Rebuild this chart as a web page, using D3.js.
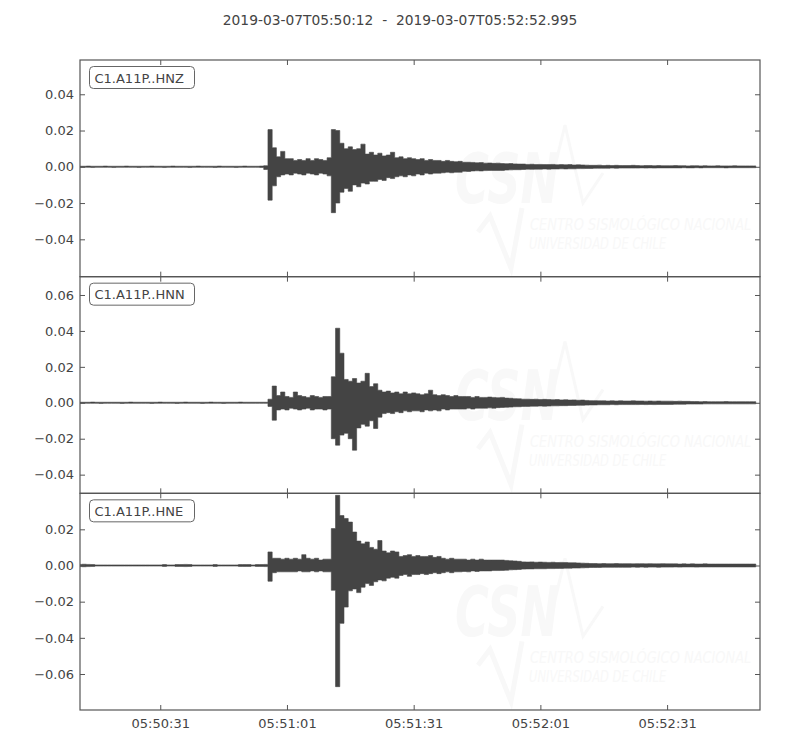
<!DOCTYPE html>
<html>
<head>
<meta charset="utf-8">
<script src="https://cdn.jsdelivr.net/npm/d3@7"></script>
<style>
  body { margin: 0; background: #fff; }
  svg { font-family: "DejaVu Sans", sans-serif; }
</style>
</head>
<body>
<svg width="800" height="750"></svg>
<script>

// ---- data ----
const channels = ["C1.A11P..HNZ", "C1.A11P..HNN", "C1.A11P..HNE"];
const titleText = "2019-03-07T05:50:12  -  2019-03-07T05:52:52.995";
const startTime = "2019-03-07T05:50:12Z";
const endTime = "2019-03-07T05:52:52.995Z";
const xTickLabels = ["05:50:31", "05:51:01", "05:51:31", "05:52:01", "05:52:31"];
const yLimits = [[-0.0606, 0.0589], [-0.0504, 0.0702], [-0.0799, 0.0399]];
const yTicks = [
  [-0.04, -0.02, 0.00, 0.02, 0.04],
  [-0.04, -0.02, 0.00, 0.02, 0.04, 0.06],
  [-0.06, -0.04, -0.02, 0.00, 0.02]
];

// envelope (max / min) of each trace per 1 s window from the start, in units of 1e-3
const hnzHigh = [
  0.3,0.3,0.4,0.3,0.3,0.3,0.4,0.3,0.3,0.3,
  0.3,0.4,0.3,0.3,0.3,0.3,0.3,0.4,0.3,0.3,
  0.3,0.3,0.4,0.3,0.3,0.3,0.3,0.3,0.4,0.3,
  0.3,0.3,0.3,0.4,0.3,0.3,0.3,0.3,0.3,0.4,
  0.3,0.3,0.3,0.4,0.6,20.5,10.5,5.5,8.5,4.5,
  4.5,3.5,4,3.5,4.5,3.5,4.5,4,3.5,5,
  20.5,20,13,10,11,9.5,10,12.5,7,8,
  6.5,7.5,6,6.5,8,5,5.5,4.5,5,4.5,
  4,4.5,3.5,4,3.5,3.5,3,3.5,3,2.8,
  3,2.5,2.5,2.4,2.2,2.3,2,2.1,1.9,2,
  1.8,1.7,1.8,1.6,1.5,1.5,1.3,1.4,1.2,1.3,
  1.2,1.2,1.3,1.1,1.2,1.1,1.2,1,1.1,1,
  0.9,0.8,0.8,0.9,0.7,0.8,0.7,0.8,0.7,0.7,
  0.7,0.8,0.7,0.6,0.7,0.7,0.6,0.7,0.6,0.6,
  0.6,0.7,0.6,0.6,0.5,0.6,0.6,0.5,0.6,0.5,
  0.5,0.6,0.5,0.5,0.5,0.6,0.5,0.5,0.5,0.5,0.5
];
const hnzLow = [
  -0.3,-0.3,-0.3,-0.4,-0.3,-0.3,-0.3,-0.3,-0.4,-0.3,
  -0.3,-0.3,-0.3,-0.3,-0.4,-0.3,-0.3,-0.3,-0.3,-0.3,
  -0.4,-0.3,-0.3,-0.3,-0.3,-0.3,-0.4,-0.3,-0.3,-0.3,
  -0.3,-0.3,-0.4,-0.3,-0.3,-0.3,-0.3,-0.4,-0.3,-0.3,
  -0.3,-0.3,-0.3,-0.4,-1.5,-18.4,-10.5,-5.5,-4.5,-4,
  -4.5,-3.5,-4,-4.5,-3.5,-4,-4.5,-3.5,-4,-5,
  -25.3,-20,-14,-12,-13.5,-10,-11,-9,-9.5,-8,
  -8,-7,-7.5,-6,-6.5,-5.5,-5,-5.5,-4.5,-5,
  -4,-4.5,-3.5,-4,-3.5,-3.5,-3.3,-3,-3.3,-3,
  -3,-2.5,-2.6,-2.3,-2.2,-2.3,-2.1,-2,-2,-2,
  -2,-1.8,-1.7,-1.6,-1.6,-1.5,-1.3,-1.4,-1.3,-1.3,
  -1.2,-1.3,-1.2,-1.2,-1.1,-1.2,-1.1,-1.1,-1,-1,
  -0.9,-0.9,-0.8,-0.8,-0.8,-0.8,-0.7,-0.8,-0.7,-0.7,
  -0.7,-0.7,-0.7,-0.6,-0.7,-0.6,-0.7,-0.6,-0.6,-0.6,
  -0.6,-0.6,-0.6,-0.5,-0.6,-0.6,-0.5,-0.6,-0.5,-0.5,
  -0.5,-0.5,-0.5,-0.6,-0.5,-0.5,-0.5,-0.5,-0.5,-0.5,-0.5
];
const hnnHigh = [
  0.3,0.3,0.3,0.4,0.3,0.3,0.3,0.3,0.3,0.3,
  0.3,0.3,0.4,0.3,0.3,0.3,0.3,0.3,0.3,0.4,
  0.3,0.3,0.3,0.3,0.3,0.4,0.3,0.3,0.3,0.3,
  0.3,0.4,0.3,0.3,0.3,0.3,0.3,0.3,0.4,0.3,
  0.3,0.3,0.3,0.3,0.3,2,9.3,4,6,3.5,
  3,6,4,3.5,3,4,3.5,3,3.5,3.5,
  14.5,41.5,27.6,13,12,13.5,11,12,16.4,9,
  10.6,7,6,6.5,5.5,6,5,6,5,5.5,
  5,4.5,5,7,4.5,4,4.5,4,3.5,4,
  3.5,3.5,3.5,3,3.5,3,3,3.2,3,2.8,
  3,2.6,2.5,2.3,2.2,2,2,1.9,2,1.8,
  1.9,1.8,1.7,1.8,1.6,1.7,1.5,1.6,1.4,1.5,
  1.3,1.2,1.2,1.1,1.1,1,1.1,1,1.1,1,
  1,1.1,1,1,0.9,1,0.9,1,0.9,0.9,
  0.9,0.8,0.9,0.8,0.8,0.7,0.7,0.6,0.7,0.6,
  0.6,0.6,0.6,0.7,0.6,0.6,0.6,0.6,0.6,0.6,0.6
];
const hnnLow = [
  -0.3,-0.3,-0.3,-0.3,-0.3,-0.4,-0.3,-0.3,-0.3,-0.3,
  -0.4,-0.3,-0.3,-0.3,-0.3,-0.3,-0.3,-0.4,-0.3,-0.3,
  -0.3,-0.3,-0.3,-0.4,-0.3,-0.3,-0.3,-0.3,-0.3,-0.4,
  -0.3,-0.3,-0.3,-0.3,-0.4,-0.3,-0.3,-0.3,-0.3,-0.3,
  -0.3,-0.3,-0.3,-0.3,-0.3,-2,-9.7,-4,-3.5,-4,
  -3,-3.5,-4,-3.5,-3,-4,-3.5,-3.5,-4,-3.5,
  -20,-23.6,-18,-17,-20,-26.4,-14,-12,-13,-10,
  -14.3,-8,-6,-5.5,-6,-5,-5.5,-4.5,-5,-4.5,
  -4.5,-5,-4,-4.5,-4,-4.5,-3.5,-4,-3.5,-3.5,
  -3.5,-3.5,-3,-3.5,-3,-3,-3,-2.8,-3,-2.7,
  -2.6,-2.5,-2.4,-2.2,-2.2,-2,-2,-1.9,-1.9,-1.8,
  -1.9,-1.8,-1.7,-1.7,-1.6,-1.6,-1.5,-1.5,-1.4,-1.4,
  -1.3,-1.2,-1.2,-1.1,-1.1,-1.1,-1,-1.1,-1,-1,
  -1,-1,-1,-0.9,-1,-0.9,-1,-0.9,-0.9,-0.9,
  -0.9,-0.8,-0.8,-0.8,-0.7,-0.7,-0.7,-0.7,-0.6,-0.6,
  -0.6,-0.6,-0.6,-0.6,-0.6,-0.6,-0.6,-0.6,-0.6,-0.6,-0.6
];
const hneHigh = [
  0.6,0.7,0.6,0.5,0.3,0.3,0.3,0.3,0.3,0.3,
  0.3,0.3,0.3,0.3,0.3,0.3,0.3,0.3,0.3,0.3,
  0.5,0.3,0.3,0.5,0.5,0.6,0.5,0.3,0.3,0.3,
  0.3,0.3,0.5,0.3,0.3,0.3,0.3,0.3,0.5,0.5,
  0.5,0.3,0.5,0.5,0.6,7.5,4,4,3.5,4,
  3.5,4,3.5,6,4,3.5,4,3,3.5,3.5,
  20.4,38.8,27.6,26,24,18.5,13.5,12,13,10,
  9,13.8,8,7,8,7.5,5,5.5,6,5,
  5.5,5,5,5.5,4.5,5,4,3.5,4,3.5,
  3.5,3.5,3,3.5,3,3.5,3,3,3,3,
  3,2.8,2.6,2.5,2.3,2,1.9,2,1.8,1.9,
  1.8,1.7,1.8,1.6,1.7,1.6,1.5,1.5,1.4,1.3,
  1.2,1.1,1.1,1,1.1,1,1,1.1,1,1,
  1,0.9,1,1,0.9,1,0.9,0.9,1,0.9,
  0.9,0.9,0.8,0.9,0.8,0.9,0.8,0.8,0.9,0.8,
  0.8,0.8,0.8,0.8,0.8,0.8,0.8,0.8,0.8,0.8,0.8
];
const hneLow = [
  -0.6,-0.7,-0.6,-0.5,-0.3,-0.3,-0.3,-0.3,-0.3,-0.3,
  -0.3,-0.3,-0.3,-0.3,-0.3,-0.3,-0.3,-0.3,-0.3,-0.3,
  -0.5,-0.3,-0.3,-0.5,-0.5,-0.6,-0.5,-0.3,-0.3,-0.3,
  -0.3,-0.3,-0.5,-0.3,-0.3,-0.3,-0.3,-0.3,-0.5,-0.5,
  -0.5,-0.3,-0.5,-0.5,-0.6,-8.7,-4,-3.5,-3.5,-3.5,
  -3.5,-3.5,-3,-3.5,-3.5,-3,-3.5,-3,-3.5,-3.5,
  -13.7,-67,-32,-23,-14,-13,-15,-12,-10,-11,
  -9,-8,-8.5,-7,-6.5,-7,-5.5,-5,-6,-5,
  -5,-4.5,-5,-4.5,-4,-4.5,-4,-3.5,-4,-3.5,
  -3.5,-3.3,-3.5,-3,-3.3,-3,-3,-3,-2.8,-2.8,
  -2.7,-2.6,-2.4,-2.3,-2.2,-2,-1.9,-1.9,-1.8,-1.8,
  -1.8,-1.7,-1.7,-1.6,-1.6,-1.5,-1.5,-1.4,-1.4,-1.3,
  -1.2,-1.1,-1.1,-1.1,-1,-1,-1,-1,-1,-1,
  -1,-0.9,-1,-0.9,-1,-0.9,-0.9,-1,-0.9,-0.9,
  -0.9,-0.8,-0.9,-0.8,-0.8,-0.8,-0.9,-0.8,-0.8,-0.8,
  -0.8,-0.8,-0.8,-0.8,-0.8,-0.8,-0.8,-0.8,-0.8,-0.8,-0.8
];
const highs = [hnzHigh, hnnHigh, hneHigh];
const lows = [hnzLow, hnnLow, hneLow];


// ---- layout ----
const svg = d3.select("svg");
const plotLeft = 80, plotRight = 760, plotTop = 60, plotBottom = 710;
const panelH = (plotBottom - plotTop) / channels.length;
const traceColor = "#444";
const textColor = "#444";
const spineColor = "#555";
const markColor = "#f8f8f8";  // watermark, barely visible

const t0 = new Date(startTime);
const x = d3.scaleUtc()
    .domain([t0, new Date(endTime)])
    .range([plotLeft, plotRight]);

const parseTick = d3.utcParse("%Y-%m-%dT%H:%M:%S");
const xTicks = xTickLabels.map(function (s) { return parseTick("2019-03-07T" + s); });
const fmtY = function (d) { return d3.format(".2f")(d).replace("-", "\u2212"); };

// Title
svg.append("text")
    .attr("x", 400)
    .attr("y", 25)
    .attr("text-anchor", "middle")
    .style("font-size", "13.8px")
    .style("white-space", "pre")
    .attr("fill", textColor)
    .text(titleText);

const defs = svg.append("defs");

// faint CSN watermark in each panel
function drawWatermark(g) {
  const wm = g.append("g").attr("fill", markColor).attr("stroke", "none");
  wm.append("text")
      .attr("transform", "translate(375,143) scale(0.66,1)")
      .style("font-size", "70px").style("font-weight", "bold").style("font-style", "italic")
      .text("CSN");
  wm.append("polyline")
      .attr("points", "470,127 485,65 503,143 523,113")
      .attr("fill", "none").attr("stroke", markColor).attr("stroke-width", 3);
  wm.append("polyline")
      .attr("points", "398,172 410,156 431,208 442,148")
      .attr("fill", "none").attr("stroke", markColor).attr("stroke-width", 5);
  wm.append("text")
      .attr("transform", "translate(450,170) scale(0.81,1)")
      .style("font-size", "16px").style("font-style", "italic")
      .text("CENTRO SISMOLÓGICO NACIONAL");
  wm.append("text")
      .attr("transform", "translate(449,189) scale(0.72,1)")
      .style("font-size", "16px").style("font-style", "italic")
      .text("UNIVERSIDAD DE CHILE");
}

channels.forEach(function (name, i) {
  const y0 = plotTop + i * panelH;
  const y = d3.scaleLinear()
      .domain(yLimits[i])
      .range([y0 + panelH, y0]);

  defs.append("clipPath")
      .attr("id", "clip" + i)
    .append("rect")
      .attr("x", plotLeft).attr("y", y0)
      .attr("width", plotRight - plotLeft).attr("height", panelH);

  const panel = svg.append("g");

  drawWatermark(panel.append("g")
      .attr("transform", "translate(" + plotLeft + "," + y0 + ")"));

  // trace envelope, one min-max column per second window
  const samples = highs[i].map(function (h, k) {
    return { t: new Date(t0.getTime() + k * 1000), hi: h * 1e-3, lo: lows[i][k] * 1e-3 };
  });
  const area = d3.area()
      .curve(d3.curveStep)
      .x(function (d) { return x(d.t); })
      .y0(function (d) { return y(d.lo); })
      .y1(function (d) { return y(d.hi); });

  panel.append("path")
      .datum(samples)
      .attr("clip-path", "url(#clip" + i + ")")
      .attr("fill", traceColor)
      .attr("stroke", traceColor)
      .attr("stroke-width", 0.6)
      .attr("d", area);

  // axes, ticks pointing inward on all four sides
  const axL = panel.append("g").attr("transform", "translate(" + plotLeft + ",0)")
      .call(d3.axisLeft(y).tickValues(yTicks[i]).tickFormat(fmtY)
        .tickSizeInner(-5).tickSizeOuter(0).tickPadding(6));
  const axR = panel.append("g").attr("transform", "translate(" + plotRight + ",0)")
      .call(d3.axisRight(y).tickValues(yTicks[i]).tickFormat("")
        .tickSizeInner(-5).tickSizeOuter(0));
  const axT = panel.append("g").attr("transform", "translate(0," + y0 + ")")
      .call(d3.axisTop(x).tickValues(xTicks).tickFormat("")
        .tickSizeInner(-5).tickSizeOuter(0));
  const axB = panel.append("g").attr("transform", "translate(0," + (y0 + panelH) + ")")
      .call(d3.axisBottom(x).tickValues(xTicks)
        .tickFormat(i === channels.length - 1 ? d3.utcFormat("%H:%M:%S") : "")
        .tickSizeInner(-5).tickSizeOuter(0).tickPadding(8.5));

  [axL, axR, axT, axB].forEach(function (ax) {
    ax.select(".domain").remove();
    ax.selectAll(".tick line").attr("stroke", spineColor);
    ax.selectAll(".tick text")
        .attr("fill", textColor)
        .style("font-size", "13px")
        .style("font-family", "DejaVu Sans, sans-serif");
  });

  // spines
  panel.append("rect")
      .attr("x", plotLeft).attr("y", y0)
      .attr("width", plotRight - plotLeft).attr("height", panelH)
      .attr("fill", "none")
      .attr("stroke", spineColor)
      .attr("stroke-width", 1.2);

  // channel label box
  const lab = panel.append("g").attr("transform", "translate(" + (plotLeft + 9.5) + "," + (y0 + 6.5) + ")");
  lab.append("rect")
      .attr("width", 105).attr("height", 22)
      .attr("rx", 4).attr("ry", 4)
      .attr("fill", "#fff")
      .attr("stroke", "#666")
      .attr("stroke-width", 1);
  lab.append("text")
      .attr("x", 5).attr("y", 16)
      .attr("fill", textColor)
      .style("font-size", "13px")
      .text(name);
});

</script>
</body>
</html>
